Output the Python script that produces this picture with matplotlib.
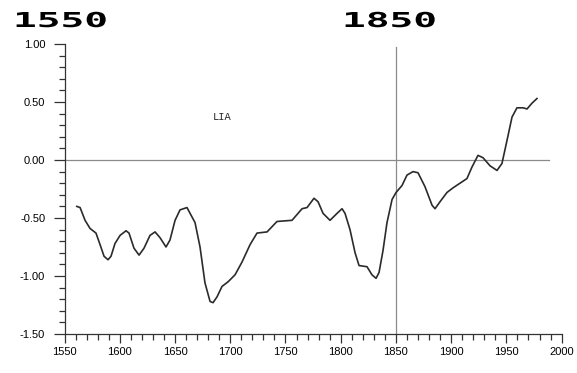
import matplotlib
matplotlib.use('Agg')
import matplotlib.pyplot as plt
from matplotlib import patheffects
from matplotlib.transforms import Affine2D
from matplotlib.ticker import MultipleLocator, FormatStrFormatter

# reconstructed temperature anomaly series
years = [1561, 1564, 1568.5, 1573, 1578.4, 1582.1, 1585.7, 1589.3, 1592, 1595.6,
         1600.2, 1605.6, 1608.3, 1612.8, 1617.4, 1621.9, 1627.3, 1631.9, 1636.4, 1641.8,
         1645.4, 1650, 1654.5, 1660.8, 1668.1, 1672.6, 1677.1, 1681.7, 1684.4, 1688,
         1692.5, 1698, 1704.3, 1710.6, 1717.9, 1724.2, 1733.3, 1742.3, 1755.9, 1765,
         1769.5, 1775.8, 1779.5, 1784, 1790.3, 1796.7, 1801.2, 1803.9, 1808.4, 1813,
         1816.6, 1823.8, 1828.3, 1832, 1834.7, 1838.3, 1841.9, 1846.5, 1850.1, 1855.5,
         1860, 1865.5, 1870, 1876.3, 1882.7, 1885.4, 1889.9, 1896.2, 1901.7, 1908,
         1914.3, 1918.9, 1924.3, 1928.8, 1935.2, 1941.5, 1946, 1950.6, 1955.1, 1959.6,
         1965.1, 1968.7, 1973.2, 1977.7]
anomaly = [-0.40, -0.41, -0.52, -0.59, -0.63, -0.73, -0.83, -0.86, -0.83, -0.72,
           -0.65, -0.61, -0.63, -0.76, -0.82, -0.76, -0.65, -0.62, -0.67, -0.75,
           -0.69, -0.52, -0.43, -0.41, -0.54, -0.75, -1.06, -1.22, -1.23, -1.18,
           -1.09, -1.05, -0.99, -0.88, -0.73, -0.63, -0.62, -0.53, -0.52, -0.42,
           -0.41, -0.33, -0.36, -0.46, -0.52, -0.46, -0.42, -0.46, -0.60, -0.80,
           -0.91, -0.92, -0.99, -1.02, -0.97, -0.78, -0.54, -0.34, -0.28, -0.22,
           -0.13, -0.10, -0.11, -0.23, -0.39, -0.42, -0.36, -0.28, -0.24, -0.20,
           -0.16, -0.06, 0.04, 0.02, -0.05, -0.09, -0.03, 0.17, 0.37, 0.45,
           0.45, 0.44, 0.49, 0.53]

marker_years = ['1550', '1850']
split_year = 1850
lia_label = 'LIA'


class Stretch(patheffects.AbstractPathEffect):
    """Widen glyphs horizontally from the text origin."""
    def __init__(self, sx):
        super().__init__()
        self.sx = sx

    def draw_path(self, renderer, gc, tpath, affine, rgbFace=None):
        renderer.draw_path(gc, tpath, Affine2D().scale(self.sx, 1) + affine, rgbFace)


plt.rcParams['font.family'] = ['Liberation Sans', 'DejaVu Sans']

fig = plt.figure(figsize=(5.77, 3.73), dpi=100)
ax = fig.add_axes([0.112, 0.1046, 0.8613, 0.7774])

ax.axhline(0, xmin=0, xmax=(1988.6 - 1550) / 450, color='#8a8a8a', lw=0.9, zorder=1)
ax.axvline(split_year, ymin=0, ymax=(0.974 + 1.5) / 2.5, color='#8a8a8a', lw=0.9, zorder=1)
ax.plot(years, anomaly, color='#2b2b2b', lw=1.2, zorder=2, solid_joinstyle='round')

ax.set_xlim(1550, 2000)
ax.set_ylim(-1.5, 1.0)
ax.xaxis.set_major_locator(MultipleLocator(50))
ax.xaxis.set_minor_locator(MultipleLocator(10))
ax.yaxis.set_major_locator(MultipleLocator(0.5))
ax.yaxis.set_minor_locator(MultipleLocator(0.1))
ax.yaxis.set_major_formatter(FormatStrFormatter('%.2f'))

for s in ['top', 'right']:
    ax.spines[s].set_visible(False)
for s in ['left', 'bottom']:
    ax.spines[s].set_color('#333333')
    ax.spines[s].set_linewidth(0.9)

ax.tick_params(axis='x', which='major', direction='out', length=6.5, width=0.9,
               color='#333333', labelsize=8, pad=3)
ax.tick_params(axis='x', which='minor', direction='out', length=4, width=0.9, color='#333333')
ax.tick_params(axis='y', which='major', direction='out', length=8, width=0.9,
               color='#333333', labelsize=8, pad=6)
ax.tick_params(axis='y', which='minor', direction='out', length=4.3, width=0.9, color='#333333')

ax.text(1693, 0.37, lia_label, family='Liberation Mono', fontsize=7.5, color='#222222',
        ha='center', va='center')

# big year headers across the top
for label, xpx in zip(marker_years, [13, 342]):
    fig.text(xpx / 577, 1 - 27 / 373, label, family='DejaVu Sans Mono', weight='bold',
             fontsize=14.8, color='black', ha='left', va='baseline',
             path_effects=[Stretch(1.92)])

fig.savefig('out.png', dpi=100)
